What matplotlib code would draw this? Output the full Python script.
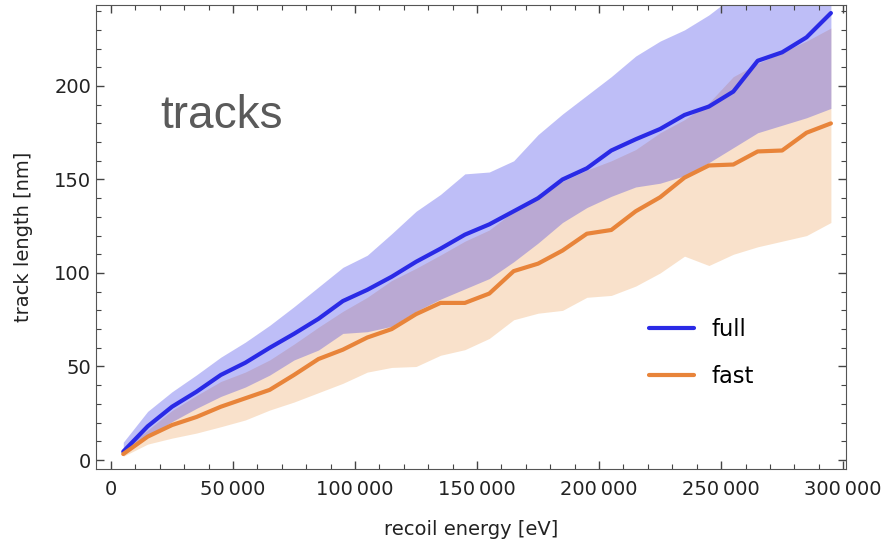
import matplotlib.pyplot as plt
import numpy as np
from matplotlib.ticker import MultipleLocator, FuncFormatter

# recoil energy grid [eV]
energy = np.arange(5000, 300000, 10000)

# full simulation: mean and band [nm]
full_mean = [4.5, 18, 28.5, 36.5, 45.5, 52, 60, 67.5, 75.5, 85,
             91, 98, 106, 113, 120.5, 126, 133, 140, 150, 156,
             165.5, 171.5, 177, 184.5, 189, 197, 213.5, 218, 226, 239]
full_hi = [9.5, 26, 36.5, 45.5, 55, 63, 72, 82, 92.5, 103,
           109.5, 121, 133, 142, 153, 154, 160, 174, 185, 195,
           205, 216, 224, 230, 238, 248, 256, 264, 272, 280]
full_lo = [3.5, 12.5, 20.5, 27.6, 34, 39, 45.4, 53.5, 58.8, 67.7,
           68.6, 71.5, 79.5, 86, 91.5, 97, 106, 116, 127, 135,
           141, 146, 148, 152, 159, 167, 175, 179, 183, 188]

# fast simulation: mean and band [nm]
fast_mean = [3.2, 12.5, 18.7, 23, 28.5, 33, 37.5, 45.5, 54, 59,
             65.5, 70, 78, 84, 84, 89, 101, 105, 112, 121,
             123, 133, 140.5, 151, 157.5, 158, 165, 165.5, 175, 180]
fast_hi = [6, 16, 26.5, 34.5, 42, 47, 53.5, 62, 71, 79.5,
           87, 96, 102.5, 109.6, 117, 123, 133, 142, 149, 155,
           160, 166, 175, 182, 191, 205, 212, 218, 224, 231]
fast_lo = [2, 8.5, 11.7, 14.4, 17.8, 21.4, 26.7, 31, 36, 41,
           47, 49.5, 50, 56, 59, 65, 75, 78.5, 80, 87,
           88, 93, 100, 109, 104, 110, 114, 117, 120, 127]

blue = '#2a2ae6'
orange = '#e8843a'

fig = plt.figure(figsize=(8.86, 5.44), dpi=100)
ax = fig.add_axes([0.1084, 0.1379, 0.8465, 0.8529])

ax.fill_between(energy, fast_lo, fast_hi, color='#e88a30', alpha=0.25, lw=0)
ax.fill_between(energy, full_lo, full_hi, color=blue, alpha=0.3, lw=0)
ax.plot(energy, full_mean, color=blue, lw=3, label='full', solid_capstyle='round')
ax.plot(energy, fast_mean, color=orange, lw=3, label='fast', solid_capstyle='round')

ax.set_xlim(-6150, 301200)
ax.set_ylim(-4.8, 243.3)

ax.xaxis.set_major_locator(MultipleLocator(50000))
ax.xaxis.set_minor_locator(MultipleLocator(10000))
ax.yaxis.set_major_locator(MultipleLocator(50))
ax.yaxis.set_minor_locator(MultipleLocator(10))
ax.xaxis.set_major_formatter(FuncFormatter(lambda v, p: f'{int(v):,}'.replace(',', '\u2009')))

ax.tick_params(which='both', direction='in', top=True, right=True, colors='#444444',
               labelcolor='#222222')
ax.tick_params(which='major', length=6, width=1, labelsize=14)
ax.tick_params(axis='x', which='major', pad=8)
ax.tick_params(which='minor', length=3.5, width=0.8)
for s in ax.spines.values():
    s.set_color('#555555')

ax.set_xlabel('recoil energy [eV]', fontsize=14, color='#222222', labelpad=15)
ax.set_ylabel('track length [nm]', fontsize=14, color='#222222', labelpad=15)

ax.text(20000, 177.5, 'tracks', fontsize=33, color='#5a5a5a',
        family='Liberation Sans', va='baseline')

leg = ax.legend(loc='center left', bbox_to_anchor=(0.71, 0.25), frameon=False,
                fontsize=16.3, handlelength=2.0, labelspacing=1.05, handletextpad=0.75)

fig.savefig('out.png', dpi=100)
